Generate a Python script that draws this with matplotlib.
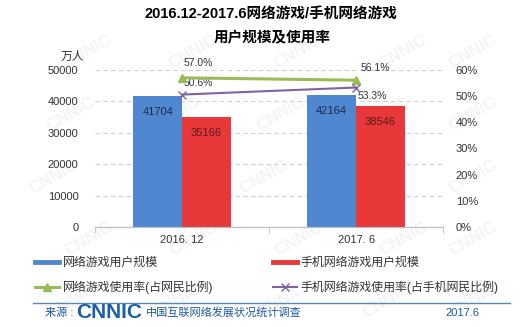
import numpy as np
import matplotlib.pyplot as plt
from matplotlib.lines import Line2D

plt.rcParams['font.family'] = ['Liberation Sans', 'Noto Sans CJK SC', 'DejaVu Sans']

# data
periods = ['2016. 12', '2017. 6']
pc_users = [41704, 42164]          # 网络游戏用户规模 (万人)
mobile_users = [35166, 38546]      # 手机网络游戏用户规模 (万人)
pc_rate = [0.570, 0.561]           # 网络游戏使用率
mobile_rate = [0.506, 0.533]       # 手机网络游戏使用率
rate_offsets = [[(12, 11), (14, 9)], [(12, 8), (12, -6)]]

blue = '#4F88D0'
red = '#E8383A'
green = '#9BBB59'
purple = '#8064A2'
navy = '#1F5A9E'

fig = plt.figure(figsize=(5.25, 3.27), dpi=100)
ax = fig.add_axes([0.181, 0.306, 0.663, 0.480])
ax2 = ax.twinx()

# faint CNNIC marks in the background
for yy in np.arange(0.08, 0.95, 0.19):
    for xx in np.arange(0.08, 0.95, 0.2):
        xc = min(xx + (yy * 0.7) % 0.1, 0.9)
        fig.text(xc, yy, 'CNNIC', fontsize=12, fontweight='bold',
                 color='#f4f4f4', rotation=30, ha='center', va='center', zorder=-5)

x = np.arange(len(periods))
w = 0.28
b1 = ax.bar(x - w / 2, pc_users, w, color=blue, zorder=3, label='网络游戏用户规模')
b2 = ax.bar(x + w / 2, mobile_users, w, color=red, zorder=3, label='手机网络游戏用户规模')
for r, v in zip(b1, pc_users):
    ax.annotate(str(v), (r.get_x() + r.get_width() / 2, v), xytext=(0, -8),
                textcoords='offset points', ha='center', va='top', fontsize=8, color='#1B2A4A')
for r, v in zip(b2, mobile_users):
    ax.annotate(str(v), (r.get_x() + r.get_width() / 2, v), xytext=(0, -8),
                textcoords='offset points', ha='center', va='top', fontsize=8, color='#5A1A1A')

l1, = ax2.plot(x, pc_rate, color=green, lw=2.2, marker='^', ms=6, zorder=4,
               label='网络游戏使用率(占网民比例)')
l2, = ax2.plot(x, mobile_rate, color=purple, lw=1.5, marker='x', ms=6, zorder=4,
               label='手机网络游戏使用率(占手机网民比例)')
for i in range(len(periods)):
    ax2.annotate(f'{pc_rate[i]*100:.1f}%', (x[i], pc_rate[i]), xytext=rate_offsets[0][i],
                 textcoords='offset points', ha='center', va='center', fontsize=7.5, color='#333333')
    ax2.annotate(f'{mobile_rate[i]*100:.1f}%', (x[i], mobile_rate[i]), xytext=rate_offsets[1][i],
                 textcoords='offset points', ha='center', va='center', fontsize=7.5, color='#333333')

ax.set_xlim(-0.5, 1.5)
ax.set_ylim(0, 50000)
ax.set_yticks(range(0, 50001, 10000))
ax2.set_ylim(0, 0.6)
ax2.set_yticks(np.arange(0, 0.61, 0.1))
ax2.set_yticklabels([f'{int(round(t*100))}%' for t in np.arange(0, 0.61, 0.1)])
ax.set_xticks(x)
ax.set_xticklabels(periods)
ax.set_xticks([-0.5, 0.5, 1.5], minor=True)
ax.tick_params(axis='x', which='major', length=0, labelsize=8, pad=6, colors='#333333')
ax.tick_params(axis='x', which='minor', length=4, color='#BFBFBF', direction='out')
ax.tick_params(axis='y', length=0, labelsize=8, pad=12, colors='#333333')
ax2.tick_params(axis='y', length=0, labelsize=8, pad=9, colors='#333333')
ax.grid(axis='y', ls=(0, (4, 3)), color='#D0D0D0', lw=0.8, zorder=0)
for a in (ax, ax2):
    for s in ('left', 'right', 'top'):
        a.spines[s].set_visible(False)
    a.spines['bottom'].set_color('#BFBFBF')
    a.patch.set_visible(False)
ax.set_zorder(ax2.get_zorder() - 1)

fig.text(0.138, 0.825, '万人', fontsize=8.5, ha='center', va='center', color='#333333')
fig.text(0.516, 0.958, '2016.12-2017.6网络游戏/手机网络游戏', fontsize=10.5,
         fontweight='bold', ha='center', va='center')
fig.text(0.518, 0.886, '用户规模及使用率', fontsize=10.5, fontweight='bold',
         ha='center', va='center')

# legend: bars shown as thick lines
h_b1 = Line2D([], [], color=blue, lw=3.5)
h_b2 = Line2D([], [], color=red, lw=3.5)
leg = fig.legend([h_b1, l1, h_b2, l2], [b1.get_label(), l1.get_label(), b2.get_label(), l2.get_label()],
                 ncol=2, loc='upper left', bbox_to_anchor=(0.058, 0.228), frameon=False,
                 fontsize=8.6, handlelength=2.0, handletextpad=0.3, columnspacing=5.0,
                 labelspacing=1.0, borderaxespad=0)
for t in leg.get_texts():
    t.set_color('#333333')

fig.add_artist(Line2D([0.063, 0.971], [0.074, 0.074], color='#5B87B5', lw=1.0))
fig.text(0.085, 0.043, '来源 :', fontsize=8, color=navy, va='center')
fig.text(0.145, 0.043, 'CNNIC', fontsize=15, fontweight='bold', color='#1B5FAA', va='center')
fig.text(0.278, 0.043, '中国互联网络发展状况统计调查', fontsize=8, color=navy, va='center')
fig.text(0.848, 0.043, '2017.6', fontsize=8, color=navy, va='center')

fig.savefig('out.png', dpi=100, facecolor='white')
